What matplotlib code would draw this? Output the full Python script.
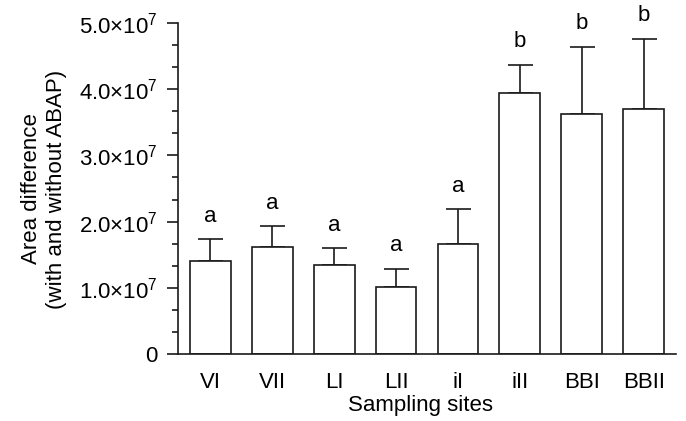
import numpy as np
import matplotlib
matplotlib.use("Agg")
import matplotlib.pyplot as plt
from matplotlib.ticker import MultipleLocator, FixedLocator

plt.rcParams['font.family'] = ['Liberation Sans', 'DejaVu Sans']
plt.rcParams['mathtext.fontset'] = 'custom'
plt.rcParams['mathtext.rm'] = 'Liberation Sans'
plt.rcParams['mathtext.default'] = 'regular'

sites = ["VI", "VII", "LI", "LII", "iI", "iII", "BBI", "BBII"]
means = [1.40e7, 1.61e7, 1.34e7, 1.01e7, 1.66e7, 3.94e7, 3.62e7, 3.70e7]
errs = [0.33e7, 0.32e7, 0.26e7, 0.28e7, 0.53e7, 0.43e7, 1.02e7, 1.06e7]
groups = ["a", "a", "a", "a", "a", "b", "b", "b"]
ytick_vals = [0, 1e7, 2e7, 3e7, 4e7, 5e7]
ytick_labels = ["0", "1.0×10$^{7}$", "2.0×10$^{7}$", "3.0×10$^{7}$",
                "4.0×10$^{7}$", "5.0×10$^{7}$"]

fs = 16
fig = plt.figure(figsize=(6.86, 4.21), dpi=100)
ax = fig.add_axes([178/686, 1-354/421, 498/686, 331/421])

x = np.arange(len(sites))
ax.errorbar(x, means, yerr=[np.zeros(len(errs)), errs], fmt='none',
            ecolor='#1a1a1a', elinewidth=1.2, capsize=9, capthick=1.2, zorder=1)
ax.bar(x, means, width=0.66, color='white', edgecolor='#1a1a1a', linewidth=1.2, zorder=2)

for xi, m, e, g in zip(x, means, errs, groups):
    ax.annotate(g, (xi, m + e), xytext=(0, 9), textcoords='offset points',
                ha='center', va='bottom', fontsize=fs)

ax.set_xlim(-0.52, 7.52)
ax.set_ylim(0, 5e7)
ax.set_xticks(x)
ax.set_xticklabels(sites, fontsize=fs)
ax.yaxis.set_major_locator(FixedLocator(ytick_vals))
ax.set_yticklabels(ytick_labels, fontsize=fs)
ax.yaxis.set_minor_locator(MultipleLocator(1e7/3))

for s in ['top', 'right']:
    ax.spines[s].set_visible(False)
for s in ['left', 'bottom']:
    ax.spines[s].set_linewidth(1.2)
    ax.spines[s].set_color('#1a1a1a')

ax.tick_params(axis='x', length=0, pad=13)
ax.tick_params(axis='y', which='major', length=8, width=1.2, pad=7, color='#1a1a1a')
ax.tick_params(axis='y', which='minor', length=4.5, width=1.2, color='#1a1a1a')

fig.text(44/686, 1-189/421, "Area difference\n(with and without ABAP)",
         rotation=90, ha='center', va='center', multialignment='center', fontsize=fs)
fig.text(420/686, 1-405/421, "Sampling sites", ha='center', va='center', fontsize=fs)

fig.savefig("out.png", dpi=100)
